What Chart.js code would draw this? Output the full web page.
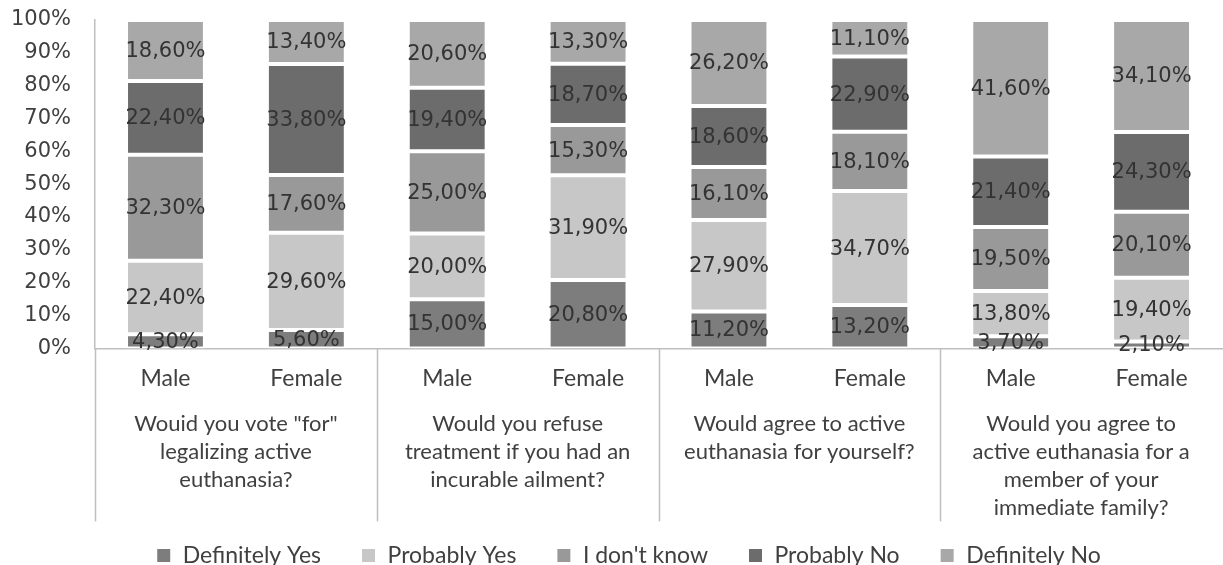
<!DOCTYPE html>
<html>
<head>
<meta charset="utf-8">
<script src="https://cdn.jsdelivr.net/npm/chart.js@4/dist/chart.umd.min.js"></script>
<style>
  body { margin: 0; background: #fff; overflow: hidden; }
</style>
</head>
<body>
<canvas id="euthChart" width="1223" height="565"></canvas>
<script>
// data (percent of respondents)
const genders = ["Male", "Female", "Male", "Female", "Male", "Female", "Male", "Female"];
const questions = [
  ["Wouid you vote \"for\"", "legalizing active", "euthanasia?"],
  ["Would you refuse", "treatment if you had an", "incurable ailment?"],
  ["Would agree to active", "euthanasia for yourself?"],
  ["Would you agree to", "active euthanasia for a", "member of your", "immediate family?"]
];
const definitelyYes = [4.3, 5.6, 15.0, 20.8, 11.2, 13.2, 3.7, 2.1];
const probablyYes = [22.4, 29.6, 20.0, 31.9, 27.9, 34.7, 13.8, 19.4];
const dontKnow = [32.3, 17.6, 25.0, 15.3, 16.1, 18.1, 19.5, 20.1];
const probablyNo = [22.4, 33.8, 19.4, 18.7, 18.6, 22.9, 21.4, 24.3];
const definitelyNo = [18.6, 13.4, 20.6, 13.3, 26.2, 11.1, 41.6, 34.1];
const yTicks = [0, 10, 20, 30, 40, 50, 60, 70, 80, 90, 100];

const textColor = "#404040";
const lineColor = "#bfbfbf";

// value labels in the middle of every segment
const segmentLabels = {
  id: "segmentLabels",
  afterDatasetsDraw(chart) {
    const ctx = chart.ctx;
    ctx.save();
    ctx.font = "21px 'DejaVu Sans'";
    ctx.fillStyle = "#333333";
    ctx.textAlign = "center";
    ctx.textBaseline = "middle";
    chart.data.datasets.forEach((ds, i) => {
      const meta = chart.getDatasetMeta(i);
      meta.data.forEach((bar, j) => {
        const p = bar.getProps(["x", "y", "base"], true);
        const txt = ds.data[j].toFixed(2).replace(".", ",") + "%";
        ctx.fillText(txt, p.x, (p.y + p.base) / 2 + 1);
      });
    });
    ctx.restore();
  }
};

// vertical lines between the question groups below the axis
const groupLines = {
  id: "groupLines",
  afterDraw(chart) {
    const x = chart.scales.x;
    const ctx = chart.ctx;
    const half = (x.getPixelForValue(1) - x.getPixelForValue(0)) / 2;
    ctx.save();
    ctx.strokeStyle = lineColor;
    ctx.lineWidth = 1.5;
    for (let i = 0; i < genders.length; i += 2) {
      const px = Math.round(x.getPixelForValue(i) - half) + 0.5;
      ctx.beginPath();
      ctx.moveTo(px, chart.chartArea.bottom);
      ctx.lineTo(px, chart.chartArea.bottom + 173);
      ctx.stroke();
    }
    ctx.restore();
  }
};

// nudge the legend row a bit (its padding also sets the item gaps)
const legendNudge = {
  id: "legendNudge",
  afterLayout(chart) {
    const lg = chart.legend;
    lg.top -= 20;
    lg.bottom -= 20;
    lg.left += 24;
    lg.right += 24;
  }
};

const makeSet = (label, data, color) => ({
  label: label,
  data: data,
  backgroundColor: color,
  borderColor: "#ffffff",
  borderWidth: 2,
  borderSkipped: false,
  categoryPercentage: 1,
  barPercentage: 0.56
});

new Chart(document.getElementById("euthChart"), {
  type: "bar",
  data: {
    labels: genders,
    datasets: [
      makeSet("Definitely Yes", definitelyYes, "#7d7d7d"),
      makeSet("Probably Yes", probablyYes, "#c7c7c7"),
      makeSet("I don't know", dontKnow, "#999999"),
      makeSet("Probably No", probablyNo, "#6c6c6c"),
      makeSet("Definitely No", definitelyNo, "#a8a8a8")
    ]
  },
  options: {
    responsive: false,
    animation: false,
    layout: { padding: { top: 0, right: 1, left: -13, bottom: -32 } },
    scales: {
      x: {
        stacked: true,
        grid: { display: false, drawTicks: false },
        border: { color: lineColor, width: 1.5 },
        ticks: {
          color: textColor,
          font: { family: "Lato", size: 23 },
          padding: 16,
          maxRotation: 0,
          autoSkip: false
        }
      },
      x2: {
        type: "category",
        position: "bottom",
        labels: questions,
        offset: true,
        grid: { display: false, drawTicks: false },
        border: { display: false },
        ticks: {
          color: textColor,
          font: { family: "Lato", size: 22, lineHeight: 1.27 },
          padding: 2,
          maxRotation: 0,
          autoSkip: false
        },
        afterFit(scale) {
          scale.height = 116;
        }
      },
      y: {
        stacked: true,
        min: 0,
        max: 100,
        grid: { display: false, drawTicks: false },
        border: { color: lineColor, width: 1.5 },
        afterBuildTicks(scale) {
          scale.ticks = yTicks.map((v) => ({ value: v }));
        },
        afterFit(scale) {
          scale.paddingTop = 20;
          scale.paddingBottom = 12;
        },
        ticks: {
          color: textColor,
          font: { family: "DejaVu Sans", size: 21 },
          padding: 24,
          autoSkip: false,
          callback: (v) => v + "%"
        }
      }
    },
    plugins: {
      legend: {
        position: "bottom",
        labels: {
          color: textColor,
          font: { family: "Lato", size: 23 },
          boxWidth: 15,
          boxHeight: 15,
          padding: 40
        }
      },
      tooltip: { enabled: false }
    }
  },
  plugins: [segmentLabels, groupLines, legendNudge]
});
</script>
</body>
</html>
